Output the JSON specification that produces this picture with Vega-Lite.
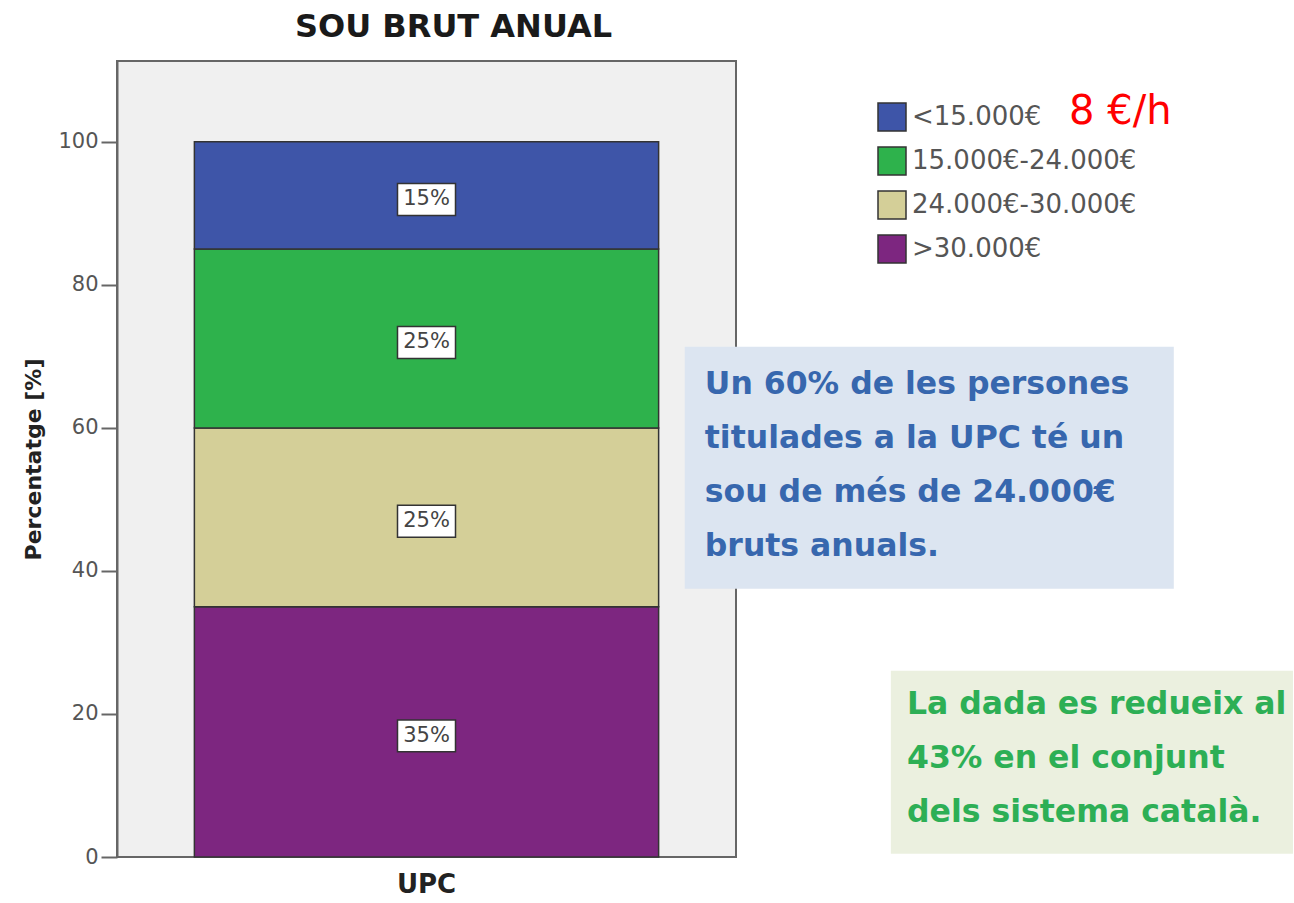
{
  "$schema": "https://vega.github.io/schema/vega-lite/v6.json",
  "padding": {"left": 21, "top": 10, "right": 0, "bottom": 0},
  "background": "#ffffff",
  "spacing": 0,
  "bounds": "flush",
  "config": {"font": "DejaVu Sans"},
  "hconcat": [
    {
      "width": 619,
      "height": 796,
      "title": {"text": "SOU BRUT ANUAL", "font": "DejaVu Sans", "fontSize": 32, "fontWeight": "bold", "color": "#1a1a1a", "anchor": "middle", "offset": 17, "dx": 27},
      "view": {"fill": "#F0F0F0", "stroke": "#666666", "strokeWidth": 2},
      "data": {"values": [
        {"univ": "UPC", "categoria": ">30.000€", "pct": 35, "rank": 1, "label": "35%"},
        {"univ": "UPC", "categoria": "24.000€-30.000€", "pct": 25, "rank": 2, "label": "25%"},
        {"univ": "UPC", "categoria": "15.000€-24.000€", "pct": 25, "rank": 3, "label": "25%"},
        {"univ": "UPC", "categoria": "<15.000€", "pct": 15, "rank": 4, "label": "15%"}
      ]},
      "transform": [
        {"stack": "pct", "groupby": ["univ"], "sort": [{"field": "rank", "order": "ascending"}], "as": ["y0", "y1"]},
        {"calculate": "(datum.y0 + datum.y1) / 2", "as": "ymid"}
      ],
      "encoding": {
        "x": {"field": "univ", "type": "nominal", "title": null,
          "scale": {"paddingInner": 0, "paddingOuter": 0},
          "axis": {"labelAngle": 0, "labelFont": "DejaVu Sans", "labelFontSize": 26, "labelFontWeight": "bold", "labelColor": "#222222", "labelPadding": 14, "ticks": false, "domain": false}}
      },
      "layer": [
        {
          "mark": {"type": "bar", "width": {"band": 0.75}, "stroke": "#333333", "strokeWidth": 1.5},
          "encoding": {
            "y": {"field": "y0", "type": "quantitative", "title": "Percentatge [%]",
              "scale": {"domain": [0, 111.3], "nice": false},
              "axis": {"values": [0, 20, 40, 60, 80, 100], "grid": false, "tickSize": 16, "tickColor": "#666666", "tickWidth": 2, "domainColor": "#666666", "domainWidth": 2,
                "labelFont": "DejaVu Sans", "labelFontSize": 21, "labelColor": "#555555", "labelPadding": 3,
                "titleFont": "DejaVu Sans", "titleFontSize": 22, "titleFontWeight": "bold", "titleColor": "#222222", "titlePadding": 12}},
            "y2": {"field": "y1"},
            "color": {"field": "categoria", "type": "nominal",
              "scale": {"domain": ["<15.000€", "15.000€-24.000€", "24.000€-30.000€", ">30.000€"], "range": ["#3E55A8", "#2EB24C", "#D4CF98", "#7D2680"]},
              "legend": {"orient": "none", "legendX": 760, "legendY": 41, "title": null, "symbolType": "square", "symbolSize": 784, "symbolStrokeColor": "#333333", "symbolStrokeWidth": 1.5, "symbolOpacity": 1,
                "labelFont": "DejaVu Sans", "labelFontSize": 26, "labelColor": "#555555", "labelOffset": 5, "labelLimit": 0, "rowPadding": 10, "padding": 0}}
          }
        },
        {
          "mark": {"type": "point", "shape": "M-1,-0.55H1V0.55H-1Z", "size": 3364, "filled": true, "fill": "#ffffff", "stroke": "#333333", "strokeWidth": 1.5, "opacity": 1, "yOffset": 4},
          "encoding": {"y": {"field": "ymid", "type": "quantitative"}}
        },
        {
          "mark": {"type": "text", "font": "DejaVu Sans", "fontSize": 21, "color": "#444444", "baseline": "middle", "align": "center", "yOffset": 4},
          "encoding": {"y": {"field": "ymid", "type": "quantitative"}, "text": {"field": "label"}}
        }
      ]
    },
    {
      "width": 557,
      "height": 796,
      "view": {"stroke": null, "fill": null},
      "data": {"values": [
        {"kind": "box", "x": -9.2, "x2": 78.6, "y": 33.7, "y2": 64.1, "fill": "blue"},
        {"kind": "box", "x": 27.8, "x2": 100, "y": 0.4, "y2": 23.4, "fill": "green"}
      ]},
      "layer": [
        {
          "mark": {"type": "rect"},
          "encoding": {
            "x": {"field": "x", "type": "quantitative", "scale": {"domain": [0, 100], "nice": false, "zero": false}, "axis": null},
            "x2": {"field": "x2"},
            "y": {"field": "y", "type": "quantitative", "scale": {"domain": [0, 100], "nice": false, "zero": false}, "axis": null},
            "y2": {"field": "y2"},
            "fill": {"field": "fill", "type": "nominal", "scale": {"domain": ["blue", "green"], "range": ["#DCE5F1", "#EBF0DF"]}, "legend": null}
          }
        },
        {
          "data": {"values": [
            {"x": -5.6, "y": 61.3, "text": "Un 60% de les persones\ntitulades a la UPC té un\nsou de més de 24.000€\nbruts anuals.", "grp": "blue"},
            {"x": 30.7, "y": 21.1, "text": "La dada es redueix al\n43% en el conjunt\ndels sistema català.", "grp": "green"}
          ]},
          "mark": {"type": "text", "font": "DejaVu Sans", "fontSize": 31.5, "fontWeight": "bold", "align": "left", "baseline": "top", "lineBreak": "\n", "lineHeight": 54},
          "encoding": {
            "x": {"field": "x", "type": "quantitative"},
            "y": {"field": "y", "type": "quantitative"},
            "text": {"field": "text"},
            "color": {"field": "grp", "type": "nominal", "scale": {"domain": ["blue", "green"], "range": ["#3767AE", "#2DAF55"]}, "legend": null}
          }
        },
        {
          "data": {"values": [{"x": 59.8, "y": 92.1, "text": "8 €/h"}]},
          "mark": {"type": "text", "font": "DejaVu Sans", "fontSize": 40, "color": "#FF0000", "align": "left", "baseline": "alphabetic"},
          "encoding": {
            "x": {"field": "x", "type": "quantitative"},
            "y": {"field": "y", "type": "quantitative"},
            "text": {"field": "text"}
          }
        }
      ],
      "resolve": {"scale": {"color": "independent"}}
    }
  ]
}
